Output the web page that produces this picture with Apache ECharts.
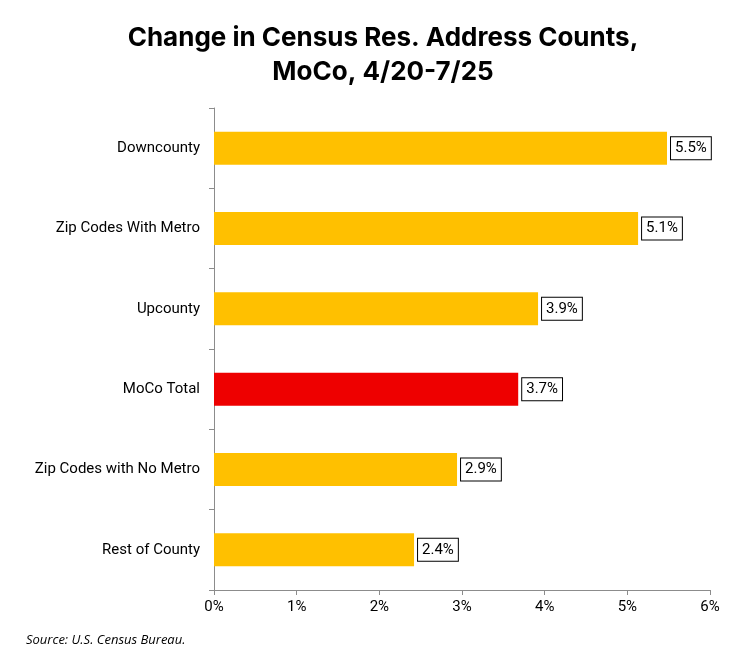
<!DOCTYPE html>
<html>
<head>
<meta charset="utf-8">
<script src="https://cdn.jsdelivr.net/npm/echarts@6/dist/echarts.min.js"></script>
<style>html,body{margin:0;padding:0;background:#fff;}#c{width:741px;height:664px;}</style>
</head>
<body>
<div id="c"></div>
<script>
const categories = ["Downcounty", "Zip Codes With Metro", "Upcounty", "MoCo Total", "Zip Codes with No Metro", "Rest of County"];
const values = [5.48, 5.13, 3.92, 3.68, 2.94, 2.42];
const highlight = "MoCo Total";
const tickLabels = ["0%", "1%", "2%", "3%", "4%", "5%", "6%"];

const chart = echarts.init(document.getElementById('c'), null, {renderer: 'canvas'});
const cats = categories.slice().reverse();
const vals = values.slice().reverse();
chart.setOption({
  animation: false,
  backgroundColor: '#fff',
  title: [{
    text: 'Change in Census Res. Address Counts,\nMoCo, 4/20-7/25',
    left: 378, top: 16, textAlign: 'center',
    textStyle: {fontFamily: 'Inter', fontWeight: 'bold', fontSize: 26, lineHeight: 34, color: '#000'}
  }, {
    text: 'Source: U.S. Census Bureau.',
    left: 21, top: 629,
    textStyle: {fontFamily: 'Open Sans', fontStyle: 'italic', fontWeight: 'normal', fontSize: 13, color: '#000'}
  }],
  grid: {left: 214, right: 31, top: 108, bottom: 74, containLabel: false},
  xAxis: {
    type: 'value', min: 0, max: 6, interval: 1,
    axisLine: {show: true, lineStyle: {color: '#8c8c8c', width: 1}},
    axisTick: {show: true, length: 5, lineStyle: {color: '#8c8c8c'}},
    splitLine: {show: false},
    axisLabel: {fontFamily: 'Roboto', fontSize: 15, color: '#000', margin: 10,
      formatter: v => tickLabels[Math.round(v)]}
  },
  yAxis: {
    type: 'category', data: cats,
    axisLine: {show: true, lineStyle: {color: '#8c8c8c', width: 1}},
    axisTick: {show: true, length: 5, lineStyle: {color: '#8c8c8c'}},
    axisLabel: {fontFamily: 'Roboto', fontSize: 15, color: '#000', margin: 14}
  },
  series: [{
    type: 'bar',
    data: vals.map((v, i) => ({value: v, itemStyle: {color: cats[i] === highlight ? '#EE0000' : '#FFC000'}})),
    barWidth: '41%',
    label: {
      show: true, position: 'right', distance: 4,
      formatter: p => p.value.toFixed(1) + '%',
      fontFamily: 'Roboto', fontSize: 15, color: '#000',
      borderColor: '#000', borderWidth: 1, padding: [4, 4, 3, 4], backgroundColor: '#fff'
    }
  }]
});
</script>
</body>
</html>
